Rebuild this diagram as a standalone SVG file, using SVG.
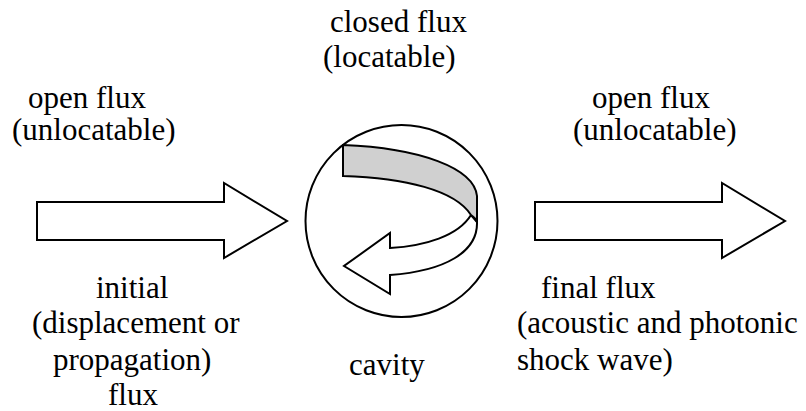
<svg xmlns="http://www.w3.org/2000/svg" width="806" height="411" viewBox="0 0 806 411">
<rect width="806" height="411" fill="#fff"/>
<g id="connectors" stroke="#000" stroke-width="2" fill="#fff">
<path id="arrow-in" d="M37,202 L224,202 L224,183 L287,221 L224,258 L224,240 L37,240 Z"/>
<path id="arrow-out" d="M535,202 L722,202 L722,183 L785,221 L722,258 L722,240 L535,240 Z"/>
</g>
<g id="cavity" stroke="#000" stroke-width="2">
<circle cx="401.5" cy="221" r="96" fill="#fff"/>
<path fill="#fff" d="M471,215 C458,236 425,246 390,248 L390,233 L344,266 L390,294 L390,275 C445,271 478,252 477,222 Z"/>
<path fill="#d0d0d0" d="M343,145 C420,148 474,168 477,196 L477,222 C476,219 474,217 471,215 C455,190 405,178 343,176 Z"/>
</g>
<g id="label-open-in">
<text x="28" y="108" style="font-family:'Liberation Serif',serif;font-size:31px">open flux</text>
<text x="12" y="140" style="font-family:'Liberation Serif',serif;font-size:31px">(unlocatable)</text>
</g>
<g id="label-closed">
<text x="330" y="32" style="font-family:'Liberation Serif',serif;font-size:31px">closed flux</text>
<text x="323" y="67" style="font-family:'Liberation Serif',serif;font-size:31px">(locatable)</text>
</g>
<g id="label-open-out">
<text x="592" y="108" style="font-family:'Liberation Serif',serif;font-size:31px">open flux</text>
<text x="573" y="140" style="font-family:'Liberation Serif',serif;font-size:31px">(unlocatable)</text>
</g>
<g id="label-initial">
<text x="96" y="298" style="font-family:'Liberation Serif',serif;font-size:31px">initial</text>
<text x="32" y="333" style="font-family:'Liberation Serif',serif;font-size:31px">(displacement or</text>
<text x="53" y="370" style="font-family:'Liberation Serif',serif;font-size:31px">propagation)</text>
<text x="108" y="405" style="font-family:'Liberation Serif',serif;font-size:31px">flux</text>
</g>
<g id="label-final">
<text x="541" y="298" style="font-family:'Liberation Serif',serif;font-size:31px">final flux</text>
<text x="517" y="333" style="font-family:'Liberation Serif',serif;font-size:31px">(acoustic and photonic</text>
<text x="517" y="370" style="font-family:'Liberation Serif',serif;font-size:31px">shock wave)</text>
</g>
<g id="label-cavity">
<text x="349" y="375" style="font-family:'Liberation Serif',serif;font-size:31px">cavity</text>
</g>
</svg>
